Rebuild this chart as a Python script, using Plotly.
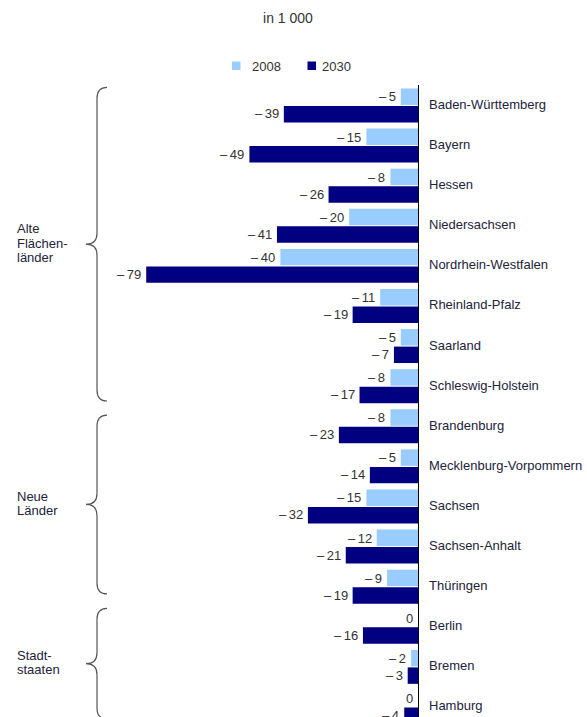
import plotly.graph_objects as go

# Population change by Land, in thousands
states = [
    "Baden-Württemberg", "Bayern", "Hessen", "Niedersachsen",
    "Nordrhein-Westfalen", "Rheinland-Pfalz", "Saarland", "Schleswig-Holstein",
    "Brandenburg", "Mecklenburg-Vorpommern", "Sachsen", "Sachsen-Anhalt",
    "Thüringen", "Berlin", "Bremen", "Hamburg",
]
values_2008 = [-5, -15, -8, -20, -40, -11, -5, -8, -8, -5, -15, -12, -9, 0, -2, 0]
values_2030 = [-39, -49, -26, -41, -79, -19, -7, -17, -23, -14, -32, -21, -19, -16, -3, -4]
series_names = ["2008", "2030"]

group_labels = [["Alte", "Flächen-", "länder"], ["Neue", "Länder"], ["Stadt-", "staaten"]]
group_first = [0, 8, 13]
group_last = [7, 12, 15]

W, H = 587, 717
ML, MR, MT, MB = 0, 169, 85, 0
PW, PH = W - ML - MR, H - MT - MB
Y_RANGE = [15.25, -0.51]
# how far each brace reaches beyond its first/last row (in rows)
BRACE_PAD = [(0.45, 0.37), (0.28, 0.18), (0.46, 0.3)]

LIGHT = "#99ccff"
DARK = "#000080"
TXT = "#23233a"
FONT = "Liberation Sans, Arial, sans-serif"


def fmt(v):
    return "0" if v == 0 else "\u2013\u2009" + str(abs(v))


def row_px(i):
    # pixel y of a category position on the reversed category axis
    return MT + (i - Y_RANGE[1]) / (Y_RANGE[0] - Y_RANGE[1]) * PH


def px2paper(px, py):
    return (px - ML) / PW, (H - MB - py) / PH


fig = go.Figure()
for name, vals, col in zip(series_names, [values_2008, values_2030], [LIGHT, DARK]):
    fig.add_trace(go.Bar(name=name, y=states, x=vals, orientation="h",
                         marker=dict(color=col, line=dict(width=0)),
                         showlegend=False))

ann = []
for s, a, b in zip(states, values_2008, values_2030):
    ann.append(dict(x=a, y=s, xref="x", yref="y", text=fmt(a), showarrow=False,
                    xanchor="right", yanchor="middle", xshift=-3, yshift=8.5,
                    font=dict(size=13, color="#333333", family=FONT)))
    ann.append(dict(x=b, y=s, xref="x", yref="y", text=fmt(b), showarrow=False,
                    xanchor="right", yanchor="middle", xshift=-3, yshift=-8.5,
                    font=dict(size=13, color="#333333", family=FONT)))
    ann.append(dict(x=0, y=s, xref="x", yref="y", text=s, showarrow=False,
                    xanchor="left", yanchor="middle", xshift=9, yshift=1,
                    font=dict(size=13, color=TXT, family=FONT)))


def brace_path(top, bottom, xl=97.0, xt=86.0, xe=107.0, r=11.0):
    mid = (top + bottom) / 2
    pts = [
        ("M", [(xe, top)]),
        ("Q", [(xl, top), (xl, top + r)]),
        ("L", [(xl, mid - r)]),
        ("Q", [(xl, mid), (xt, mid)]),
        ("Q", [(xl, mid), (xl, mid + r)]),
        ("L", [(xl, bottom - r)]),
        ("Q", [(xl, bottom), (xe, bottom)]),
    ]
    out = []
    for cmd, ps in pts:
        coords = []
        for px, py in ps:
            x, y = px2paper(px, py)
            coords.append(f"{x:.5f},{y:.5f}")
        out.append(cmd + " ".join(coords))
    return " ".join(out)


shapes = []
LINE_H = 14.5
for lines, i0, i1, (pt, pb) in zip(group_labels, group_first, group_last, BRACE_PAD):
    top = row_px(i0 - pt)
    bottom = row_px(i1 + pb)
    shapes.append(dict(type="path", xref="paper", yref="paper",
                       path=brace_path(top, bottom),
                       line=dict(color="#555555", width=1.2)))
    mid = (top + bottom) / 2 - 1
    for k, line in enumerate(lines):
        ly = mid + (k - (len(lines) - 1) / 2) * LINE_H
        lx, lyp = px2paper(15, ly)
        ann.append(dict(x=lx, y=lyp, xref="paper", yref="paper", text=line,
                        showarrow=False, xanchor="left", yanchor="middle",
                        font=dict(size=13, color=TXT, family=FONT)))

# legend: swatch + label for each series
for name, col, sx, gap in zip(series_names, [LIGHT, DARK], [232, 307.5], [18, 12.5]):
    x0, y0 = px2paper(sx, 70)
    x1, y1 = px2paper(sx + 8.5, 61.5)
    shapes.append(dict(type="rect", xref="paper", yref="paper",
                       x0=x0, y0=y0, x1=x1, y1=y1,
                       fillcolor=col, line=dict(width=0)))
    tx, ty = px2paper(sx + gap, 66)
    ann.append(dict(x=tx, y=ty, xref="paper", yref="paper", text=name,
                    showarrow=False, xanchor="left", yanchor="middle",
                    font=dict(size=13, color="#333333", family=FONT)))

fig.update_layout(
    width=W, height=H,
    margin=dict(l=ML, r=MR, t=MT, b=MB, pad=0),
    paper_bgcolor="white", plot_bgcolor="white",
    barmode="group", bargap=0.127, bargroupgap=0.06,
    title=dict(text="in 1 000", x=288 / W, xanchor="center",
               y=1 - 18 / H, yanchor="middle",
               font=dict(size=14, color="#333333", family=FONT)),
    showlegend=False,
    xaxis=dict(range=[-121.5, 0], showgrid=False, zeroline=False,
               showticklabels=False, ticks="", showline=False, fixedrange=True),
    yaxis=dict(type="category", range=Y_RANGE, side="right", showgrid=False,
               zeroline=False, showticklabels=False, ticks="",
               showline=True, linecolor="#000000", linewidth=1, fixedrange=True),
    annotations=ann,
    shapes=shapes,
)

fig.write_html("out.html", config={"displayModeBar": False})
